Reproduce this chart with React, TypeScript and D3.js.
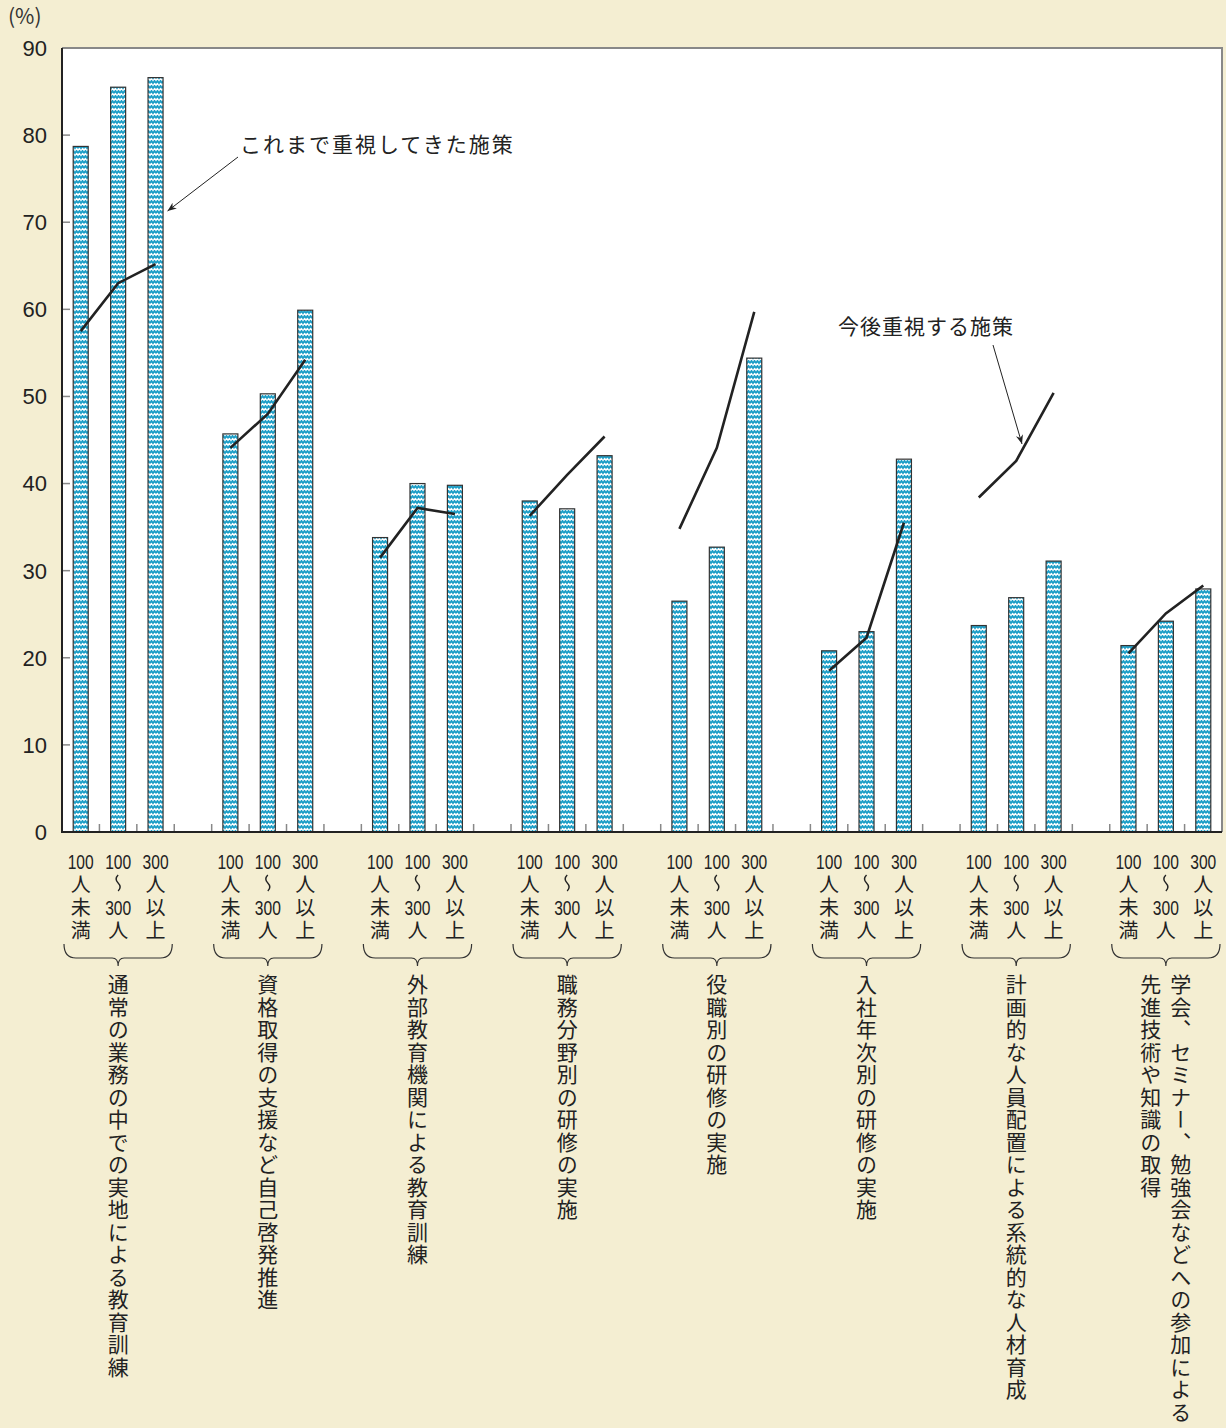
import React from "react";
import * as d3 from "d3";

const categories = [
  ["通常の業務の中での実地による教育訓練"],
  ["資格取得の支援など自己啓発推進"],
  ["外部教育機関による教育訓練"],
  ["職務分野別の研修の実施"],
  ["役職別の研修の実施"],
  ["入社年次別の研修の実施"],
  ["計画的な人員配置による系統的な人材育成"],
  ["学会、セミナー、勉強会などへの参加による", "先進技術や知識の取得"],
];
// size class labels: [top number, middle number (or ""), CJK column]
const sizeTop = ["100", "100", "300"];
const sizeMid = ["", "300", ""];
const sizeKanji = ["人未満", "人", "人以上"];
// これまで重視してきた施策 (bars)
const pastValues = [
  [78.7, 85.5, 86.6],
  [45.7, 50.3, 59.9],
  [33.8, 40.0, 39.8],
  [38.0, 37.1, 43.2],
  [26.5, 32.7, 54.4],
  [20.8, 23.0, 42.8],
  [23.7, 26.9, 31.1],
  [21.4, 24.2, 27.9],
];
// 今後重視する施策 (lines)
const futureValues = [
  [57.5, 63.0, 65.2],
  [44.1, 48.0, 54.2],
  [31.5, 37.2, 36.5],
  [36.3, 41.0, 45.4],
  [34.8, 44.1, 59.7],
  [18.5, 22.3, 35.5],
  [38.4, 42.6, 50.4],
  [20.5, 25.1, 28.3],
];
const yTicks = [0, 10, 20, 30, 40, 50, 60, 70, 80, 90];

const W = 1226, H = 1428;
const L = 62, R = 1222, T = 48, B = 832;
const FONT = "'Noto Sans CJK JP', 'Noto Sans', sans-serif";
const NUMFONT = "'Liberation Sans', Arial, sans-serif";

export default function App() {
  const nSlots = categories.length * 4 - 1;
  const x = d3.scaleLinear().domain([0, nSlots]).range([L, R]);
  const y = d3.scaleLinear().domain([0, 90]).range([B, T]);
  const barW = 15;
  const cx = (g: number, i: number) => x(g * 4 + i + 0.5);
  const line = d3.line<[number, number]>().x(d => d[0]).y(d => d[1]);
  const vert = { writingMode: "vertical-rl" } as any;

  return (
    <svg width={W} height={H} style={{ display: "block", position: "absolute", left: 0, top: 0 }}>
      <defs>
        <pattern id="wave" patternUnits="userSpaceOnUse" width="6" height="5">
          <rect width="6" height="5" fill="#ffffff" />
          <path d="M0,3.2 L1.5,0.8 L3,3.2 L4.5,0.8 L6,3.2" fill="none" stroke="#1b9dc6" strokeWidth="1.7" />
        </pattern>
        <marker id="arr" viewBox="0 0 10 10" refX="10" refY="5" markerWidth="9" markerHeight="9" orient="auto" markerUnits="userSpaceOnUse">
          <path d="M0,1 L10,5 L0,9 L3,5 Z" fill="#222" />
        </marker>
      </defs>
      <rect width={W} height={H} fill="#f4eed2" />
      <rect x={L} y={T} width={R - L} height={B - T} fill="#ffffff" />
      <path d={`M${L},${T} H${R} V${B}`} fill="none" stroke="#888" strokeWidth={2} />
      {yTicks.map(t => (
        <g key={t}>
          <line x1={L} x2={L + 8} y1={y(t)} y2={y(t)} stroke="#888" strokeWidth={1.5} />
          <text x={L - 15} y={y(t)} dy="0.36em" textAnchor="end" fontSize={22} fontFamily={NUMFONT} fill="#222">{t}</text>
        </g>
      ))}
      <text x={8} y={24} fontSize={21} fontFamily={FONT} fill="#333">(%)</text>
      {d3.range(1, nSlots).map(k => (
        <line key={k} x1={x(k)} x2={x(k)} y1={B} y2={B - 8} stroke="#888" strokeWidth={1.5} />
      ))}
      {pastValues.map((vals, g) =>
        vals.map((v, i) => (
          <rect key={`${g}-${i}`} x={cx(g, i) - barW / 2} y={y(v)} width={barW} height={B - y(v)}
            fill="url(#wave)" stroke="#333" strokeWidth={1.2} />
        ))
      )}
      {futureValues.map((vals, g) => (
        <path key={g} d={line(vals.map((v, i) => [cx(g, i), y(v)]) as [number, number][]) || ""}
          fill="none" stroke="#222" strokeWidth={2.6} />
      ))}
      <path d={`M${L},${T} V${B} H${R}`} fill="none" stroke="#222" strokeWidth={2} />
      <text x={240} y={152} fontSize={21} fontFamily={FONT} fill="#222" letterSpacing={2}>これまで重視してきた施策</text>
      <line x1={238} y1={157} x2={cx(0, 2) + 12} y2={211} stroke="#222" strokeWidth={1} markerEnd="url(#arr)" />
      <text x={838} y={334} fontSize={21} fontFamily={FONT} fill="#222" letterSpacing={1}>今後重視する施策</text>
      <line x1={993} y1={345} x2={1022} y2={444} stroke="#222" strokeWidth={1} markerEnd="url(#arr)" />
      {/* size labels */}
      {categories.map((_, g) =>
        [0, 1, 2].map(i => {
          const c = cx(g, i);
          const hasMid = sizeMid[i] !== "";
          return (
            <g key={`${g}-${i}`} fill="#222">
              <text x={c} y={869} textAnchor="middle" fontFamily={NUMFONT} fontSize={21}
                textLength={26} lengthAdjust="spacingAndGlyphs">{sizeTop[i]}</text>
              {hasMid && (
                <>
                  <path d={`M${c},${875} q-4,4 0,8 q4,4 0,8`} fill="none" stroke="#222" strokeWidth={1.4} />
                  <text x={c} y={915} textAnchor="middle" fontFamily={NUMFONT} fontSize={21}
                    textLength={26} lengthAdjust="spacingAndGlyphs">{sizeMid[i]}</text>
                </>
              )}
              <text x={c} y={hasMid ? 920 : 874} fontFamily={FONT} fontSize={20} letterSpacing={3}
                style={vert}>{sizeKanji[i]}</text>
            </g>
          );
        })
      )}
      {categories.map((_, g) => {
        const x0 = x(g * 4) + 2, x1 = x(g * 4 + 3) - 2, m = (x0 + x1) / 2;
        const yt = 944, yb = 958;
        return (
          <path key={g}
            d={`M${x0},${yt} Q${x0},${yb} ${x0 + 12},${yb} L${m - 6},${yb} Q${m},${yb} ${m},${yb + 8} Q${m},${yb} ${m + 6},${yb} L${x1 - 12},${yb} Q${x1},${yb} ${x1},${yt}`}
            fill="none" stroke="#333" strokeWidth={1.2} />
        );
      })}
      {categories.map((cols, g) => {
        const center = x(g * 4 + 1.5);
        return cols.map((c, k) => {
          const offset = cols.length === 1 ? 0 : (k === 0 ? 15 : -15);
          return (
            <text key={`${g}-${k}`} x={center + offset} y={974} fontSize={21} fontFamily={FONT} fill="#222"
              letterSpacing={1.5} style={vert}>{c}</text>
          );
        });
      })}
    </svg>
  );
}
